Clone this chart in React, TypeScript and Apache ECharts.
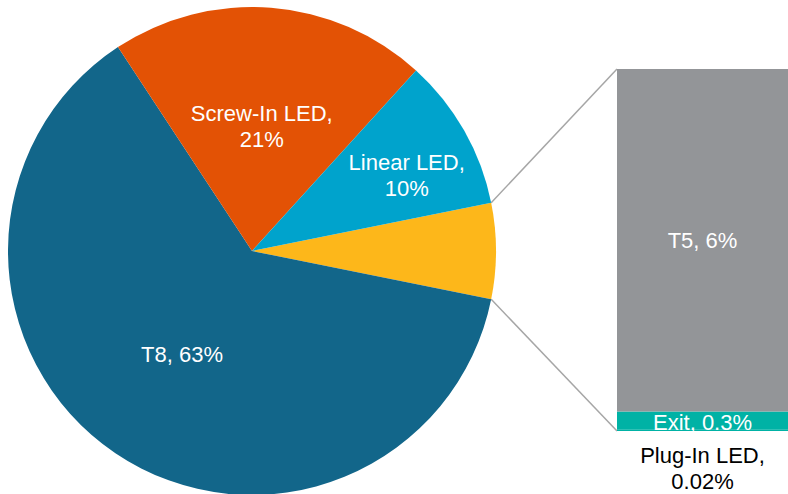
import React, { useEffect, useRef } from "react";
import * as echarts from "echarts";

const pieNames = ["Other", "T8", "Screw-In LED", "Linear LED"];
const pieValues = [6.34, 62.6, 21.0, 10.1];
const pieLabels = ["", "63%", "21%", "10%"];
const pieColors = ["#FDB71A", "#12668A", "#E35205", "#00A3CC"];

const barNames = ["Plug-In LED", "Exit", "T5"];
const barValues = [0.02, 0.32, 6.0];
const barLabels = ["0.02%", "0.3%", "6%"];
const barColors = ["#00B2A5", "#00B2A5", "#939598"];

const FONT = "'Liberation Sans', Arial, sans-serif";

export default function App() {
  const ref = useRef<HTMLDivElement>(null);
  useEffect(() => {
    document.body.style.margin = "0";
    const chart = echarts.init(ref.current!, null, { renderer: "svg" });
    const cx = 252, cy = 251, R = 244;
    const pieTotal = pieValues.reduce((a, b) => a + b, 0);
    const startAngle = (360 * (pieValues[0] / pieTotal)) / 2;
    const a = (startAngle * Math.PI) / 180;
    const barLeft = 617, barTop = 69, barHeight = 362, barWidth = 182;
    const barTotal = barValues.reduce((x, y) => x + y, 0);

    const barSeries = barNames.map((name, i) => ({
      type: "bar",
      name,
      stack: "s",
      xAxisIndex: 0,
      yAxisIndex: 0,
      barWidth: "100%",
      data: [barValues[i]],
      itemStyle: { color: barColors[i] },
      label:
        i === 0
          ? {
              show: true,
              position: "bottom",
              distance: 11,
              color: "#000",
              fontSize: 22,
              lineHeight: 26,
              fontFamily: FONT,
              formatter: () => `${name},\n${barLabels[i]}`,
            }
          : {
              show: true,
              position: "inside",
              color: "#fff",
              fontSize: 22,
              lineHeight: 26,
              fontFamily: FONT,
              offset: i === 1 ? [0, 2] : [0, 0],
              formatter: () => `${name}, ${barLabels[i]}`,
            },
    }));

    chart.setOption({
      animation: false,
      grid: { left: barLeft, top: barTop, width: barWidth, height: barHeight },
      xAxis: { type: "category", data: ["Other"], show: false },
      yAxis: { type: "value", min: 0, max: barTotal, show: false },
      graphic: [
        {
          type: "line",
          shape: { x1: cx + R * Math.cos(a), y1: cy - R * Math.sin(a), x2: barLeft, y2: barTop },
          style: { stroke: "#A6A6A6", lineWidth: 1.5 },
        },
        {
          type: "line",
          shape: { x1: cx + R * Math.cos(a), y1: cy + R * Math.sin(a), x2: barLeft, y2: barTop + barHeight },
          style: { stroke: "#A6A6A6", lineWidth: 1.5 },
        },
      ],
      series: [
        {
          type: "pie",
          center: [cx, cy],
          radius: [0, R],
          startAngle,
          clockwise: true,
          avoidLabelOverlap: false,
          data: pieNames.map((name, i) => ({
            name,
            value: pieValues[i],
            itemStyle: { color: pieColors[i] },
            label: { show: i !== 0 },
          })),
          label: {
            position: "inside",
            color: "#fff",
            fontSize: 22,
            lineHeight: 26,
            fontFamily: FONT,
            formatter: (p: any) =>
              p.dataIndex === 1
                ? `${p.name}, ${pieLabels[p.dataIndex]}`
                : `${p.name},\n${pieLabels[p.dataIndex]}`,
          },
          labelLine: { show: false },
          labelLayout: (p: any) => (p.dataIndex === 3 ? { dx: 46, dy: -14 } : {}),
          emphasis: { disabled: true },
        },
        ...barSeries,
      ],
    });
    return () => chart.dispose();
  }, []);
  return (
    <div
      ref={ref}
      style={{ position: "fixed", left: 0, top: 0, width: 788, height: 494, background: "#fff" }}
    />
  );
}
